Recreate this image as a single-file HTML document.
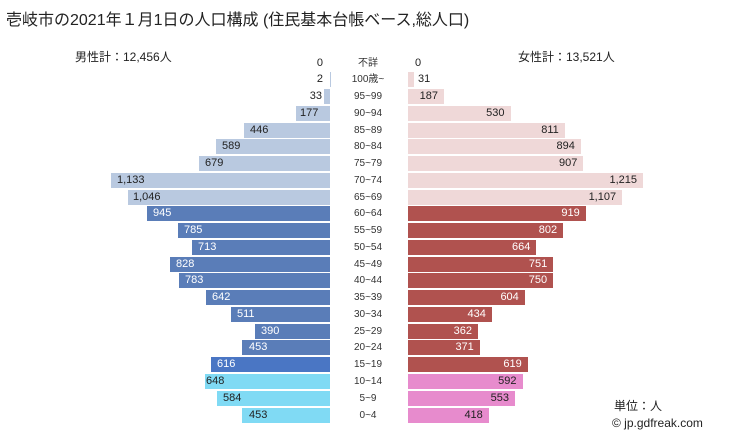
<!DOCTYPE html>
<html><head><meta charset="utf-8"><style>
body{margin:0;width:729px;height:437px;background:#fff;position:relative;overflow:hidden;font-family:"Liberation Sans","Noto Sans CJK JP",sans-serif;color:#222}
div{position:absolute}
.b{height:15px}
.t{font-size:11px;line-height:15px;height:15px;white-space:nowrap}
.c{left:338px;width:60px;text-align:center;font-size:10px;color:#333}
.ml{text-align:left}.mr{text-align:right}
.w{color:#fff}
</style></head><body>
<div style="left:6px;top:6px;font-size:16px;color:#222">壱岐市の2021年１月1日の人口構成 (住民基本台帳ベース,総人口)</div>
<div style="left:75px;top:48px;font-size:12px">男性計：12,456人</div>
<div style="left:518px;top:48px;font-size:12px">女性計：13,521人</div>
<div style="left:614px;top:397px;font-size:12px">単位：人</div>
<div style="left:612px;top:416px;font-size:12px">© jp.gdfreak.com</div>

<!-- rows -->
<div class="t c" style="top:55.5px">不詳</div>
<div class="t mr" style="left:280px;width:43px;top:55.5px">0</div>
<div class="t ml" style="left:415px;top:55.5px">0</div>

<div class="t c" style="top:72.3px">100歳~</div>
<div class="b" style="left:329.6px;width:0.4px;top:72.3px;background:#b9c9e0"></div>
<div class="t mr" style="left:280px;width:43px;top:72.3px">2</div>
<div class="b" style="left:408px;width:6px;top:72.3px;background:#efd8d8"></div>
<div class="t ml" style="left:418px;top:72.3px">31</div>

<div class="t c" style="top:89px">95~99</div>
<div class="b" style="left:323.6px;width:6.4px;top:89px;background:#b9c9e0"></div>
<div class="t mr" style="left:270px;width:52px;top:89px">33</div>
<div class="b" style="left:408px;width:36.2px;top:89px;background:#efd8d8"></div>
<div class="t mr" style="left:400px;width:38px;top:89px">187</div>

<div class="t c" style="top:105.8px">90~94</div>
<div class="b" style="left:295.8px;width:34.2px;top:105.8px;background:#b9c9e0"></div>
<div class="t ml" style="left:300px;top:105.8px">177</div>
<div class="b" style="left:408px;width:102.5px;top:105.8px;background:#efd8d8"></div>
<div class="t mr" style="left:400px;width:104.5px;top:105.8px">530</div>

<div class="t c" style="top:122.5px">85~89</div>
<div class="b" style="left:243.7px;width:86.3px;top:122.5px;background:#b9c9e0"></div>
<div class="t ml" style="left:250px;top:122.5px">446</div>
<div class="b" style="left:408px;width:156.8px;top:122.5px;background:#efd8d8"></div>
<div class="t mr" style="left:400px;width:158.8px;top:122.5px">811</div>

<div class="t c" style="top:139.3px">80~84</div>
<div class="b" style="left:216.1px;width:113.9px;top:139.3px;background:#b9c9e0"></div>
<div class="t ml" style="left:222px;top:139.3px">589</div>
<div class="b" style="left:408px;width:172.9px;top:139.3px;background:#efd8d8"></div>
<div class="t mr" style="left:400px;width:174.9px;top:139.3px">894</div>

<div class="t c" style="top:156.1px">75~79</div>
<div class="b" style="left:198.7px;width:131.3px;top:156.1px;background:#b9c9e0"></div>
<div class="t ml" style="left:205px;top:156.1px">679</div>
<div class="b" style="left:408px;width:175.4px;top:156.1px;background:#efd8d8"></div>
<div class="t mr" style="left:400px;width:177.4px;top:156.1px">907</div>

<div class="t c" style="top:172.8px">70~74</div>
<div class="b" style="left:110.9px;width:219.1px;top:172.8px;background:#b9c9e0"></div>
<div class="t ml" style="left:117px;top:172.8px">1,133</div>
<div class="b" style="left:408px;width:235px;top:172.8px;background:#efd8d8"></div>
<div class="t mr" style="left:400px;width:237px;top:172.8px">1,215</div>

<div class="t c" style="top:189.6px">65~69</div>
<div class="b" style="left:127.7px;width:202.3px;top:189.6px;background:#b9c9e0"></div>
<div class="t ml" style="left:133px;top:189.6px">1,046</div>
<div class="b" style="left:408px;width:214.1px;top:189.6px;background:#efd8d8"></div>
<div class="t mr" style="left:400px;width:216.1px;top:189.6px">1,107</div>

<div class="t c" style="top:206.3px">60~64</div>
<div class="b" style="left:147.2px;width:182.8px;top:206.3px;background:#5a7db8"></div>
<div class="t ml w" style="left:153px;top:206.3px">945</div>
<div class="b" style="left:408px;width:177.7px;top:206.3px;background:#b0524f"></div>
<div class="t mr w" style="left:400px;width:179.7px;top:206.3px">919</div>

<div class="t c" style="top:223.1px">55~59</div>
<div class="b" style="left:178.2px;width:151.8px;top:223.1px;background:#5a7db8"></div>
<div class="t ml w" style="left:184px;top:223.1px">785</div>
<div class="b" style="left:408px;width:155.1px;top:223.1px;background:#b0524f"></div>
<div class="t mr w" style="left:400px;width:157.1px;top:223.1px">802</div>

<div class="t c" style="top:239.9px">50~54</div>
<div class="b" style="left:192.1px;width:137.9px;top:239.9px;background:#5a7db8"></div>
<div class="t ml w" style="left:198px;top:239.9px">713</div>
<div class="b" style="left:408px;width:128.4px;top:239.9px;background:#b0524f"></div>
<div class="t mr w" style="left:400px;width:130.4px;top:239.9px">664</div>

<div class="t c" style="top:256.6px">45~49</div>
<div class="b" style="left:169.9px;width:160.1px;top:256.6px;background:#5a7db8"></div>
<div class="t ml w" style="left:176px;top:256.6px">828</div>
<div class="b" style="left:408px;width:145.2px;top:256.6px;background:#b0524f"></div>
<div class="t mr w" style="left:400px;width:147.2px;top:256.6px">751</div>

<div class="t c" style="top:273.4px">40~44</div>
<div class="b" style="left:178.6px;width:151.4px;top:273.4px;background:#5a7db8"></div>
<div class="t ml w" style="left:185px;top:273.4px">783</div>
<div class="b" style="left:408px;width:145.1px;top:273.4px;background:#b0524f"></div>
<div class="t mr w" style="left:400px;width:147.1px;top:273.4px">750</div>

<div class="t c" style="top:290.1px">35~39</div>
<div class="b" style="left:205.8px;width:124.2px;top:290.1px;background:#5a7db8"></div>
<div class="t ml w" style="left:212px;top:290.1px">642</div>
<div class="b" style="left:408px;width:116.8px;top:290.1px;background:#b0524f"></div>
<div class="t mr w" style="left:400px;width:118.8px;top:290.1px">604</div>

<div class="t c" style="top:306.9px">30~34</div>
<div class="b" style="left:231.2px;width:98.8px;top:306.9px;background:#5a7db8"></div>
<div class="t ml w" style="left:237px;top:306.9px">511</div>
<div class="b" style="left:408px;width:83.9px;top:306.9px;background:#b0524f"></div>
<div class="t mr w" style="left:400px;width:85.9px;top:306.9px">434</div>

<div class="t c" style="top:323.7px">25~29</div>
<div class="b" style="left:254.6px;width:75.4px;top:323.7px;background:#5a7db8"></div>
<div class="t ml w" style="left:261px;top:323.7px">390</div>
<div class="b" style="left:408px;width:70px;top:323.7px;background:#b0524f"></div>
<div class="t mr w" style="left:400px;width:72px;top:323.7px">362</div>

<div class="t c" style="top:340.4px">20~24</div>
<div class="b" style="left:242.4px;width:87.6px;top:340.4px;background:#5a7db8"></div>
<div class="t ml w" style="left:249px;top:340.4px">453</div>
<div class="b" style="left:408px;width:71.8px;top:340.4px;background:#b0524f"></div>
<div class="t mr w" style="left:400px;width:73.8px;top:340.4px">371</div>

<div class="t c" style="top:357.2px">15~19</div>
<div class="b" style="left:210.9px;width:119.1px;top:357.2px;background:#4a76c4"></div>
<div class="t ml w" style="left:217px;top:357.2px">616</div>
<div class="b" style="left:408px;width:119.7px;top:357.2px;background:#b0524f"></div>
<div class="t mr w" style="left:400px;width:121.7px;top:357.2px">619</div>

<div class="t c" style="top:373.9px">10~14</div>
<div class="b" style="left:204.7px;width:125.3px;top:373.9px;background:#80daf4"></div>
<div class="t ml" style="left:206px;top:373.9px">648</div>
<div class="b" style="left:408px;width:114.5px;top:373.9px;background:#e78bcd"></div>
<div class="t mr" style="left:400px;width:116.5px;top:373.9px">592</div>

<div class="t c" style="top:390.7px">5~9</div>
<div class="b" style="left:217.1px;width:112.9px;top:390.7px;background:#80daf4"></div>
<div class="t ml" style="left:223px;top:390.7px">584</div>
<div class="b" style="left:408px;width:107px;top:390.7px;background:#e78bcd"></div>
<div class="t mr" style="left:400px;width:109px;top:390.7px">553</div>

<div class="t c" style="top:407.5px">0~4</div>
<div class="b" style="left:242.4px;width:87.6px;top:407.5px;background:#80daf4"></div>
<div class="t ml" style="left:249px;top:407.5px">453</div>
<div class="b" style="left:408px;width:80.8px;top:407.5px;background:#e78bcd"></div>
<div class="t mr" style="left:400px;width:82.8px;top:407.5px">418</div>
</body></html>
